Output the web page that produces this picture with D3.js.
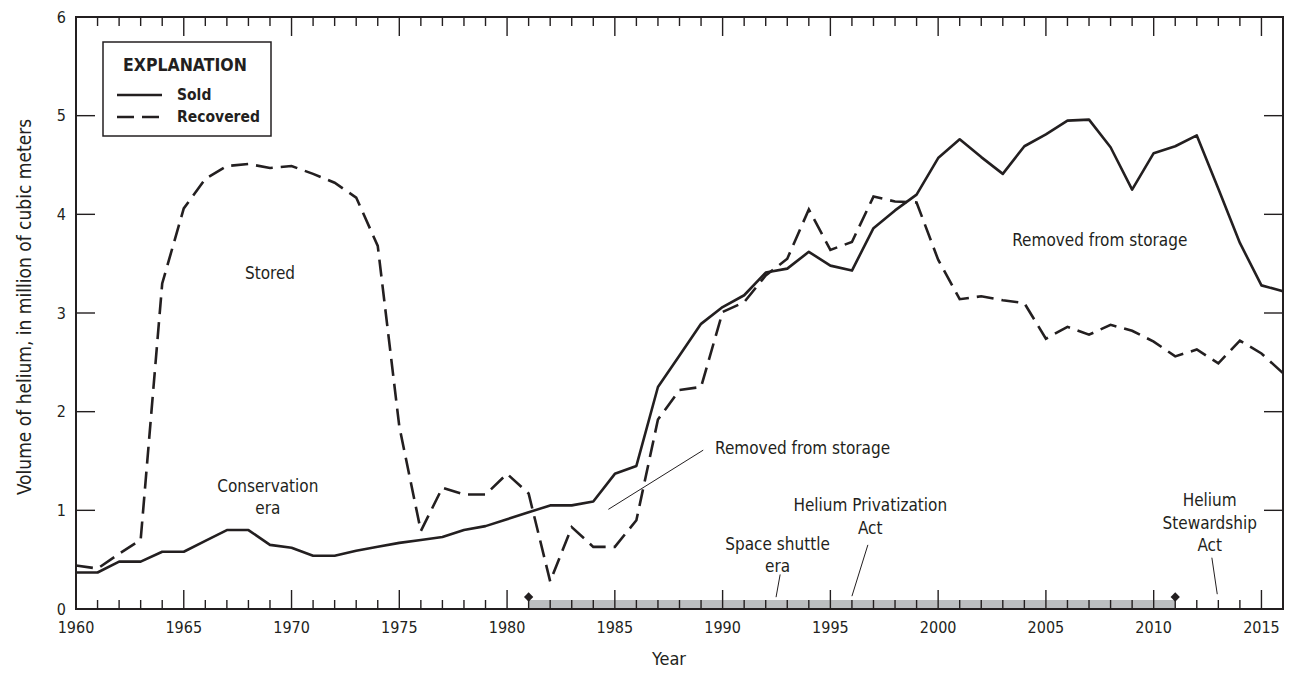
<!DOCTYPE html>
<html>
<head>
<meta charset="utf-8">
<script src="https://cdn.jsdelivr.net/npm/d3@7"></script>
<style>
  body { margin: 0; background: #fff; }
  svg text { font-family: "Liberation Sans Narrow", "DejaVu Sans Condensed", "Roboto", sans-serif; fill: #231f20; }
</style>
</head>
<body>
<svg id="chart" width="1291" height="673"></svg>
<script>
const years = [1960, 1961, 1962, 1963, 1964, 1965, 1966, 1967, 1968, 1969,
  1970, 1971, 1972, 1973, 1974, 1975, 1976, 1977, 1978, 1979,
  1980, 1981, 1982, 1983, 1984, 1985, 1986, 1987, 1988, 1989,
  1990, 1991, 1992, 1993, 1994, 1995, 1996, 1997, 1998, 1999,
  2000, 2001, 2002, 2003, 2004, 2005, 2006, 2007, 2008, 2009,
  2010, 2011, 2012, 2013, 2014, 2015, 2016];

const sold = [0.37, 0.37, 0.48, 0.48, 0.58, 0.58, 0.69, 0.80, 0.80, 0.65,
  0.62, 0.54, 0.54, 0.59, 0.63, 0.67, 0.70, 0.73, 0.80, 0.84,
  0.91, 0.98, 1.05, 1.05, 1.09, 1.37, 1.45, 2.25, 2.57, 2.89,
  3.06, 3.18, 3.41, 3.45, 3.62, 3.48, 3.43, 3.86, 4.04, 4.20,
  4.57, 4.76, 4.58, 4.41, 4.69, 4.81, 4.95, 4.96, 4.68, 4.25,
  4.62, 4.69, 4.80, 4.26, 3.71, 3.28, 3.22];

const recovered = [0.44, 0.41, 0.56, 0.70, 3.30, 4.06, 4.36, 4.49, 4.51, 4.47,
  4.49, 4.41, 4.32, 4.17, 3.68, 1.85, 0.79, 1.23, 1.16, 1.16,
  1.37, 1.17, 0.28, 0.83, 0.63, 0.63, 0.90, 1.92, 2.22, 2.25,
  3.01, 3.11, 3.38, 3.55, 4.05, 3.64, 3.72, 4.18, 4.13, 4.12,
  3.54, 3.14, 3.17, 3.13, 3.10, 2.74, 2.86, 2.78, 2.88, 2.82,
  2.71, 2.56, 2.63, 2.49, 2.72, 2.59, 2.39];

const yTicks = [0, 1, 2, 3, 4, 5, 6];
const xLabelTicks = [1960, 1965, 1970, 1975, 1980, 1985, 1990, 1995, 2000, 2005, 2010, 2015];
const shuttleEra = [1981, 2011];

// text notes placed in data units
const notes = [
  { lines: ["Stored"], year: 1969, value: 3.40, anchor: "middle" },
  { lines: ["Conservation", "era"], year: 1968.9, value: 1.25, anchor: "middle" },
  { lines: ["Removed from storage"], year: 1989.65, value: 1.63, anchor: "start",
    leader: [[1989.1, 1.61], [1984.7, 1.01]] },
  { lines: ["Removed from storage"], year: 2007.5, value: 3.74, anchor: "middle" },
  { lines: ["Space shuttle", "era"], year: 1992.55, value: 0.66, anchor: "middle",
    leader: [[1992.67, 0.35], [1992.48, 0.12]] },
  { lines: ["Helium Privatization", "Act"], year: 1996.85, value: 1.05, anchor: "middle",
    leader: [[1996.74, 0.65], [1996.0, 0.13]] },
  { lines: ["Helium", "Stewardship", "Act"], year: 2012.6, value: 1.10, anchor: "middle",
    leader: [[2012.7, 0.52], [2012.95, 0.15]] }
];

const ink = "#231f20";
const svg = d3.select("#chart"),
  margin = { top: 17, right: 8, bottom: 64, left: 76 },
  width = 1283 - margin.left,
  height = 609 - margin.top,
  g = svg.append("g").attr("transform", `translate(${margin.left},${margin.top})`);

const x = d3.scaleLinear().domain([1960, 2016]).range([0, width]);
const y = d3.scaleLinear().domain([0, 6]).range([height, 0]);

const points = years.map((yr, i) => ({ year: yr, sold: sold[i], recovered: recovered[i] }));
const allYears = d3.range(1960, 2017);

// shuttle era band on the axis
g.append("rect")
  .attr("x", x(shuttleEra[0]))
  .attr("width", x(shuttleEra[1]) - x(shuttleEra[0]))
  .attr("y", height - 9)
  .attr("height", 9)
  .style("fill", "#bcbec0");

g.selectAll(".era-end")
  .data(shuttleEra)
  .enter()
  .append("path")
  .attr("class", "era-end")
  .attr("transform", (d) => `translate(${x(d)},${height - 12})`)
  .attr("d", d3.symbol().type(d3.symbolDiamond2).size(55))
  .style("fill", ink);

// ticks: bottom and top, inward
const tickLen = (d) => (d % 5 === 0 ? 19 : 9);
g.append("g")
  .selectAll("line")
  .data(allYears.slice(1))
  .enter()
  .append("line")
  .attr("x1", (d) => x(d)).attr("x2", (d) => x(d))
  .attr("y1", height).attr("y2", (d) => height - tickLen(d))
  .style("stroke", ink).style("stroke-width", 1.4);

g.append("g")
  .selectAll("line")
  .data(allYears.slice(1))
  .enter()
  .append("line")
  .attr("x1", (d) => x(d)).attr("x2", (d) => x(d))
  .attr("y1", 0).attr("y2", (d) => tickLen(d))
  .style("stroke", ink).style("stroke-width", 1.4);

// ticks: left and right, inward
g.append("g")
  .selectAll("line")
  .data(yTicks.slice(1, -1))
  .enter()
  .append("line")
  .attr("x1", 0).attr("x2", 19)
  .attr("y1", (d) => y(d)).attr("y2", (d) => y(d))
  .style("stroke", ink).style("stroke-width", 1.4);

g.append("g")
  .selectAll("line")
  .data(yTicks.slice(1, -1))
  .enter()
  .append("line")
  .attr("x1", width).attr("x2", width - 19)
  .attr("y1", (d) => y(d)).attr("y2", (d) => y(d))
  .style("stroke", ink).style("stroke-width", 1.4);

// frame
g.append("rect")
  .attr("width", width)
  .attr("height", height)
  .style("fill", "none")
  .style("stroke", ink)
  .style("stroke-width", 2);

// tick labels
g.append("g")
  .selectAll("text")
  .data(yTicks)
  .enter()
  .append("text")
  .attr("x", -10)
  .attr("y", (d) => y(d))
  .attr("dy", "0.35em")
  .attr("text-anchor", "end")
  .style("font-size", "16px")
  .text((d) => d);

g.append("g")
  .selectAll("text")
  .data(xLabelTicks)
  .enter()
  .append("text")
  .attr("x", (d) => x(d))
  .attr("y", height + 24)
  .attr("text-anchor", "middle")
  .style("font-size", "16px")
  .text((d) => d);

// axis titles
svg.append("text")
  .attr("transform", `translate(24,${margin.top + height / 2 - 6}) rotate(-90)`)
  .attr("text-anchor", "middle")
  .attr("dy", "0.35em")
  .style("font-size", "19px")
  .text("Volume of helium, in million of cubic meters");

svg.append("text")
  .attr("x", 669)
  .attr("y", 659)
  .attr("dy", "0.35em")
  .attr("text-anchor", "middle")
  .style("font-size", "18px")
  .text("Year");

// series
const line = (key) =>
  d3.line()
    .x((d) => x(d.year))
    .y((d) => y(d[key]));

g.append("path")
  .datum(points)
  .attr("d", line("sold"))
  .style("fill", "none")
  .style("stroke", ink)
  .style("stroke-width", 2.6)
  .style("stroke-linejoin", "round");

g.append("path")
  .datum(points)
  .attr("d", line("recovered"))
  .style("fill", "none")
  .style("stroke", ink)
  .style("stroke-width", 2.6)
  .style("stroke-dasharray", "17,8");

// notes
const note = g.selectAll(".note").data(notes).enter().append("g").attr("class", "note");
note.each(function (d) {
  const el = d3.select(this);
  d.lines.forEach((t, i) => {
    el.append("text")
      .attr("x", x(d.year))
      .attr("y", y(d.value) + i * 22.5)
      .attr("dy", "0.35em")
      .attr("text-anchor", d.anchor)
      .style("font-size", "17px")
      .text(t);
  });
  if (d.leader) {
    el.append("line")
      .attr("x1", x(d.leader[0][0])).attr("y1", y(d.leader[0][1]))
      .attr("x2", x(d.leader[1][0])).attr("y2", y(d.leader[1][1]))
      .style("stroke", ink).style("stroke-width", 1);
  }
});

// legend box
const lg = svg.append("g").attr("transform", "translate(103,42)");
lg.append("rect")
  .attr("width", 168).attr("height", 94)
  .style("fill", "#fff").style("stroke", ink).style("stroke-width", 1.5);
lg.append("text")
  .attr("x", 20).attr("y", 23).attr("dy", "0.35em")
  .style("font-size", "17.5px").style("font-weight", "bold")
  .text("EXPLANATION");
[["Sold", null], ["Recovered", "17,8"]].forEach(([label, dash], i) => {
  lg.append("line")
    .attr("x1", 14).attr("x2", 59)
    .attr("y1", 53 + i * 22).attr("y2", 53 + i * 22)
    .style("stroke", ink).style("stroke-width", 2.6)
    .style("stroke-dasharray", dash);
  lg.append("text")
    .attr("x", 74).attr("y", 53 + i * 22).attr("dy", "0.35em")
    .style("font-size", "15.5px").style("font-weight", "bold")
    .text(label);
});
</script>
</body>
</html>
